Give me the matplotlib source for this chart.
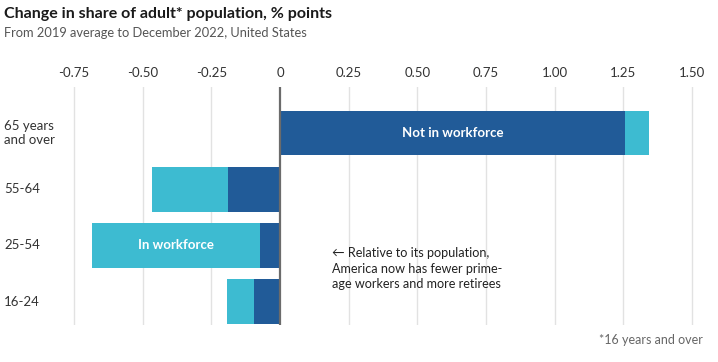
import numpy as np
import matplotlib.pyplot as plt

# change in share of adult population, % points
groups = ["65 years\nand over", "55-64", "25-54", "16-24"]
not_in_workforce = [1.256, -0.19, -0.073, -0.094]
in_workforce = [0.087, -0.275, -0.611, -0.10]
ticks = [-0.75, -0.5, -0.25, 0, 0.25, 0.5, 0.75, 1.0, 1.25, 1.5]
tick_labels = ["-0.75", "-0.50", "-0.25", "0", "0.25", "0.50", "0.75", "1.00", "1.25", "1.50"]

dark = "#215b98"
light = "#3dbbd1"

plt.rcParams['font.family'] = ['Lato', 'DejaVu Sans']

fig = plt.figure(figsize=(7.18, 3.62), dpi=100)
W, H = 718, 362
# axes placed in pixel terms
x0, x1 = -0.80, 1.55
px_per_unit = 274.7
left_px = 280 + x0 * px_per_unit
right_px = 280 + x1 * px_per_unit
top_px, bot_px = 87, 325
ax = fig.add_axes([left_px / W, 1 - bot_px / H, (right_px - left_px) / W, (bot_px - top_px) / H])

y = np.arange(len(groups))
ax.barh(y, not_in_workforce, height=0.8, color=dark, zorder=3)
ax.barh(y, in_workforce, left=not_in_workforce, height=0.8, color=light, zorder=3)

ax.set_xlim(x0, x1)
ax.set_ylim(3.42, -0.82)

for t in ticks:
    if t == 0:
        ax.axvline(t, color="#6b6b6b", lw=1.6, zorder=4)
    else:
        ax.axvline(t, color="#e2e2e2", lw=1, zorder=1)

ax.set_xticks(ticks)
ax.set_xticklabels(tick_labels)
ax.xaxis.tick_top()
ax.tick_params(axis="x", length=0, pad=6, labelsize=9.5, labelcolor="#333333")
ax.set_yticks([])
for s in ax.spines.values():
    s.set_visible(False)

# bar labels
ax.text(not_in_workforce[0] / 2, 0, "Not in workforce", color="white", fontsize=9.5,
        fontweight="bold", ha="center", va="center", zorder=5)
ax.text(not_in_workforce[2] + in_workforce[2] / 2, 2, "In workforce", color="white", fontsize=9.5,
        fontweight="bold", ha="center", va="center", zorder=5)

# category labels
for i, g in enumerate(groups):
    fig.text(4 / W, 1 - (133 + 56.2 * i) / H, g, fontsize=9.5, color="#333333",
             ha="left", va="center", linespacing=1.3)

ax.text(0.19, 2.42, "\u2190 Relative to its population,\nAmerica now has fewer prime-\nage workers and more retirees",
        fontsize=9.1, color="#222222", ha="left", va="center", linespacing=1.35,
        family=['Lato', 'DejaVu Sans'])

fig.text(4 / W, 1 - 14 / H, "Change in share of adult* population, % points", fontsize=11.5,
         fontweight="bold", color="#1a1a1a", ha="left", va="center")
fig.text(4 / W, 1 - 33 / H, "From 2019 average to December 2022, United States", fontsize=9.3,
         color="#555555", ha="left", va="center")
fig.text(703 / W, 1 - 340 / H, "*16 years and over", fontsize=9, color="#666666",
         ha="right", va="center")

fig.savefig("out.png", dpi=100)
